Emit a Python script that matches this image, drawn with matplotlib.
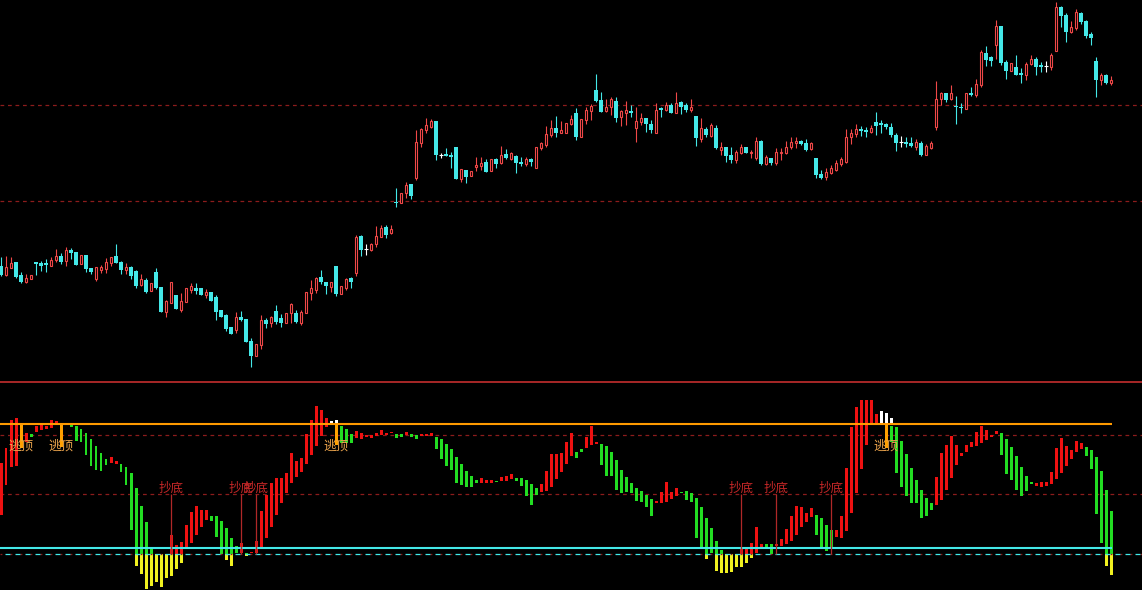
import numpy as np
import matplotlib.pyplot as plt

plt.rcParams['font.family'] = ['Noto Sans CJK SC', 'DejaVu Sans']

# price candles (arbitrary price units)
open_ = [134, 125, 132, 138, 125, 118, 121, 138, 137, 137,
         134, 140, 144, 139, 150, 148, 136, 145, 132, 121,
         130, 131, 137, 144, 138, 130, 133, 129, 115, 120,
         109, 128, 113, 88, 97, 105, 90, 98, 110, 112,
         112, 105, 108, 103, 90, 85, 73, 70, 83, 81,
         59, 44, 55, 80, 77, 89, 82, 77, 87, 87,
         77, 87, 107, 110, 123, 118, 113, 134, 106, 112,
         122, 127, 164, 151, 150, 156, 163, 173, 167, 198,
         197, 207, 216, 222, 257, 270, 273, 279, 245, 246,
         245, 253, 221, 230, 224, 233, 234, 238, 229, 241,
         237, 246, 241, 244, 238, 236, 241, 232, 252, 255,
         265, 272, 267, 267, 276, 287, 263, 280, 289, 310,
         300, 289, 293, 299, 283, 287, 289, 272, 278, 282,
         276, 267, 292, 290, 295, 287, 298, 295, 290, 284,
         261, 271, 264, 272, 250, 253, 245, 240, 247, 253,
         247, 242, 259, 236, 242, 237, 247, 247, 253, 257,
         259, 257, 251, 242, 226, 223, 227, 230, 236, 238,
         263, 266, 271, 270, 268, 278, 277, 276, 273, 265,
         258, 258, 257, 253, 257, 245, 252, 273, 301, 307,
         301, 294, 293, 291, 307, 305, 315, 347, 343, 355,
         374, 338, 329, 333, 327, 325, 336, 341, 335, 334,
         333, 349, 393, 385, 368, 372, 387, 379, 366, 339,
         320, 325, 317]
high = [143, 144, 143, 138, 128, 126, 125, 138, 139, 141,
        143, 151, 147, 153, 152, 148, 145, 145, 132, 133,
        135, 142, 143, 156, 139, 137, 134, 130, 126, 122,
        117, 132, 113, 100, 118, 105, 107, 112, 117, 117,
        112, 111, 108, 105, 90, 86, 73, 88, 89, 81,
        62, 56, 85, 82, 84, 95, 86, 87, 97, 90,
        90, 108, 120, 123, 130, 118, 118, 134, 114, 122,
        123, 165, 165, 156, 157, 174, 175, 175, 175, 212,
        207, 218, 216, 270, 272, 282, 281, 279, 247, 252,
        248, 253, 231, 230, 229, 243, 243, 241, 241, 242,
        254, 251, 248, 245, 243, 243, 242, 253, 258, 274,
        280, 284, 279, 277, 285, 292, 281, 293, 296, 326,
        308, 301, 303, 303, 290, 299, 295, 293, 287, 282,
        280, 297, 293, 298, 297, 308, 299, 297, 301, 284,
        282, 273, 277, 275, 258, 253, 253, 250, 256, 253,
        250, 263, 260, 245, 242, 252, 252, 259, 263, 263,
        260, 261, 258, 242, 230, 232, 235, 240, 243, 271,
        271, 276, 274, 273, 275, 288, 280, 277, 277, 267,
        264, 263, 263, 261, 259, 256, 259, 319, 308, 307,
        315, 304, 297, 307, 313, 321, 350, 354, 344, 380,
        374, 340, 337, 345, 332, 338, 345, 343, 338, 339,
        347, 398, 394, 387, 379, 391, 388, 380, 368, 343,
        327, 326, 324]
low = [124, 124, 132, 122, 117, 117, 121, 125, 129, 128,
       134, 138, 136, 134, 141, 135, 136, 128, 126, 119,
       127, 127, 134, 137, 126, 126, 121, 112, 114, 107,
       109, 111, 88, 83, 97, 91, 88, 98, 107, 106,
       105, 102, 99, 80, 83, 69, 66, 67, 79, 58,
       33, 44, 51, 72, 73, 76, 73, 77, 77, 77,
       75, 87, 100, 107, 116, 106, 108, 104, 106, 110,
       112, 124, 144, 145, 149, 153, 163, 162, 166, 193,
       197, 202, 201, 220, 253, 267, 272, 240, 242, 244,
       232, 221, 218, 217, 224, 229, 230, 228, 229, 232,
       236, 241, 240, 227, 234, 234, 234, 232, 250, 253,
       263, 263, 267, 267, 275, 260, 263, 276, 280, 298,
       288, 288, 285, 278, 274, 275, 283, 258, 275, 268,
       267, 267, 283, 289, 287, 287, 286, 288, 288, 254,
       258, 263, 263, 251, 245, 238, 237, 237, 246, 247,
       242, 240, 235, 235, 235, 235, 240, 246, 251, 252,
       255, 249, 250, 222, 221, 220, 226, 229, 234, 237,
       256, 263, 264, 263, 267, 265, 267, 271, 263, 249,
       253, 253, 253, 250, 244, 245, 251, 270, 295, 298,
       300, 276, 287, 291, 304, 303, 313, 334, 334, 341,
       335, 321, 329, 325, 317, 320, 335, 325, 328, 328,
       330, 349, 373, 358, 367, 370, 376, 362, 355, 303,
       315, 316, 315]
close = [125, 133, 137, 123, 118, 122, 125, 136, 134, 135,
         140, 144, 138, 150, 147, 135, 145, 131, 128, 133,
         133, 138, 143, 137, 130, 133, 124, 114, 121, 108,
         117, 112, 88, 99, 118, 91, 99, 112, 114, 109,
         105, 108, 99, 88, 83, 71, 66, 83, 80, 58,
         44, 56, 80, 76, 83, 78, 77, 87, 96, 78,
         88, 108, 112, 122, 118, 114, 118, 106, 114, 121,
         118, 163, 150, 151, 156, 164, 172, 165, 171, 197,
         207, 215, 204, 258, 271, 275, 279, 245, 245, 244,
         243, 221, 231, 223, 229, 235, 237, 228, 241, 236,
         245, 242, 247, 237, 236, 241, 238, 253, 257, 266,
         272, 267, 270, 277, 281, 263, 281, 290, 294, 299,
         288, 293, 301, 282, 289, 290, 287, 279, 282, 276,
         270, 290, 290, 295, 287, 297, 293, 290, 293, 262,
         272, 265, 275, 252, 253, 244, 240, 248, 253, 247,
         248, 259, 236, 243, 237, 248, 248, 253, 258, 259,
         256, 250, 257, 225, 222, 228, 232, 237, 241, 263,
         267, 271, 269, 268, 272, 274, 275, 273, 265, 257,
         258, 256, 254, 258, 245, 254, 257, 301, 307, 300,
         307, 293, 292, 307, 305, 316, 348, 340, 339, 374,
         337, 329, 337, 325, 325, 336, 341, 333, 333, 334,
         345, 393, 384, 368, 373, 388, 378, 364, 362, 320,
         325, 317, 320]

# indicator: fast / slow lines (None = no bar)
fast = [91, 106, 134, 136, None, 121, 117, 128, 131, 128,
        134, 133, None, None, 127, 113, 112, 99, 88, 84,
        83, 89, 97, 93, 82, 69, 24, -12, -20, -35,
        -32, -28, -33, -5, 19, 9, 12, 29, 42, 48,
        44, 44, 33, 17, 0, -6, -12, 1, 11, -2,
        2, 13, 43, 59, 71, 76, 76, 81, 101, 93,
        96, 120, 134, 148, 144, 136, None, None, 111, 111,
        111, 123, 121, 119, 119, 121, 124, 121, 122, 116,
        117, 122, 117, 115, 120, 120, 121, 105, 95, 88,
        84, 71, 69, 67, 67, 71, 76, 74, 74, 72,
        77, 78, 80, 73, 68, 58, 49, 59, 70, 83,
        100, 100, 101, 112, 121, 96, 102, 117, 128, 112,
        89, 78, 78, 64, 61, 62, 61, 53, 52, 47,
        38, 53, 62, 72, 62, 66, 61, 54, 52, 16,
        7, -5, 1, -17, -19, -19, -18, -5, 6, 7,
        11, 27, 10, 7, 0, 10, 15, 25, 38, 48,
        47, 41, 46, 19, 5, 3, 7, 24, 38, 86,
        127, 147, 154, 154, 154, 140, None, None, 112, 81,
        67, 58, 51, 51, 36, 38, 44, 77, 101, 109,
        118, 109, 101, 109, 112, 122, 128, 124, 119, 123,
        99, 80, 74, 64, 58, 63, 70, 71, 72, 72,
        82, 106, 116, 108, 104, 113, 111, 98, 85, 40,
        11, -12, -21]
slow = [39, 69, 87, 88, None, 112, 120, 122, 124, 125,
        126, 130, None, None, 129, 128, 125, 121, 115, 108,
        101, 95, 91, 90, 90, 87, 81, 66, 48, 32,
        5, -10, -25, -24, -22, -15, -9, 7, 11, 19,
        27, 34, 38, 38, 33, 26, 16, 8, 1, 1,
        1, 1, 7, 16, 27, 39, 51, 61, 71, 77,
        82, 90, 99, 108, 118, 127, None, None, 128, 125,
        120, 116, 115, 117, 116, 118, 119, 119, 121, 120,
        120, 119, 120, 119, 118, 118, 118, 117, 115, 110,
        105, 97, 90, 83, 78, 74, 71, 71, 71, 73,
        73, 73, 75, 76, 76, 74, 70, 66, 62, 63,
        67, 75, 82, 90, 98, 102, 105, 106, 109, 110,
        110, 108, 102, 94, 84, 77, 71, 66, 63, 59,
        55, 51, 51, 52, 55, 58, 62, 63, 61, 56,
        47, 36, 26, 13, 4, -5, -10, -13, -13, -9,
        -4, 1, 7, 10, 10, 8, 8, 10, 13, 19,
        27, 32, 37, 39, 36, 29, 24, 17, 16, 23,
        41, 61, 85, 109, 131, 130, None, None, 128, 127,
        113, 100, 86, 74, 64, 56, 51, 49, 54, 64,
        76, 89, 98, 102, 107, 108, 111, 114, 117, 120,
        121, 115, 107, 98, 87, 78, 72, 68, 67, 68,
        70, 75, 81, 88, 95, 102, 105, 107, 104, 97,
        83, 64, 43]

hot_idx = [66, 67, 176, 177, 178]
hot_val = [133, 134, 143, 141, 136]
escape_idx = [4, 12, 67, 177]
escape_low = [106, 107, 109, 106]
bottom_idx = [34, 48, 51, 148, 155, 166]

top_level = 130
low_level = 6
grid_levels = [60, 119]
price_grid = [295, 199]

RED = '#f04848'
CYAN = '#44e8e8'
BAR_RED = '#ee1111'
BAR_GREEN = '#22dd22'
YELLOW = '#f0f020'
ORANGE = '#ff9a00'
DARKRED = '#8c1c1c'

o = np.array(open_)
h = np.array(high)
l = np.array(low)
c = np.array(close)
n = len(c)
x = np.arange(n)

fig = plt.figure(figsize=(11.42, 5.90), dpi=100, facecolor='black')
ax = fig.add_axes([0, 209 / 590, 1, 381 / 590])
ax2 = fig.add_axes([0, 0, 1, 208 / 590])
for a in (ax, ax2):
    a.set_facecolor('black')
    a.set_xlim(-0.2, 228.2)
    a.set_xticks([])
    a.set_yticks([])
    for s in a.spines.values():
        s.set_visible(False)
ax.set_ylim(19, 400)
ax2.set_ylim(-36, 172)
ax2.spines['top'].set_visible(True)
ax2.spines['top'].set_color('#a82828')
ax2.spines['top'].set_linewidth(1.4)

# main chart
for lv in price_grid:
    ax.axhline(lv, color=DARKRED, lw=0.9, dashes=(3, 3), zorder=1)

bw = 0.66
down = c < o
up = c > o
flat = c == o
ax.vlines(x[down], l[down], h[down], color=CYAN, lw=0.8, zorder=2)
ax.bar(x[down], (o - c)[down], bottom=c[down], width=bw, color=CYAN,
       linewidth=0, zorder=3)
ax.vlines(x[up], c[up], h[up], color=RED, lw=0.8, zorder=2)
ax.vlines(x[up], l[up], o[up], color=RED, lw=0.8, zorder=2)
ax.bar(x[up], (c - o)[up], bottom=o[up], width=bw - 0.1, facecolor='black',
       edgecolor=RED, linewidth=0.8, zorder=3)
ax.vlines(x[flat], l[flat], h[flat], color='white', lw=0.8, zorder=2)
ax.hlines(c[flat], x[flat] - bw / 2, x[flat] + bw / 2, color='white', lw=0.8, zorder=3)

# indicator
fa = np.array([np.nan if v is None else v for v in fast], float)
sa = np.array([np.nan if v is None else v for v in slow], float)
ok = ~np.isnan(fa)
lo = np.minimum(fa, sa)
hi = np.maximum(fa, sa)
rise = ok & (fa >= sa)
fall = ok & (fa < sa)
iw = 0.6
ax2.bar(x[rise], (hi - lo)[rise], bottom=lo[rise], width=iw, color=BAR_RED,
        linewidth=0, zorder=2)
ax2.bar(x[fall], (hi - lo)[fall], bottom=lo[fall], width=iw, color=BAR_GREEN,
        linewidth=0, zorder=2)
neg = ok & (lo < 0)
ax2.bar(x[neg], -lo[neg], bottom=lo[neg], width=iw, color=YELLOW,
        linewidth=0, zorder=2)
ax2.bar(hot_idx, np.array(hot_val) - top_level, bottom=top_level, width=iw,
        color='white', linewidth=0, zorder=2)
ax2.bar(escape_idx, top_level - np.array(escape_low), bottom=escape_low,
        width=iw, color='#ffa000', linewidth=0, zorder=2)

for lv in grid_levels:
    ax2.axhline(lv, color=DARKRED, lw=0.9, dashes=(3, 3), zorder=1)
ax2.axhline(0, color=DARKRED, lw=0.9, linestyle=(0, (1.5, 6.5)), zorder=3)
ax2.axhline(0, color=CYAN, lw=0.9, linestyle=(4, (4, 4)), zorder=3)
ax2.hlines(top_level, -0.2, n - 0.8, color=ORANGE, lw=1.5, zorder=4)
ax2.hlines(low_level, -0.2, n - 0.8, color=CYAN, lw=1.5, zorder=4)

for i in escape_idx:
    ax2.text(i, 107.5, '逃顶', color='#eea64e', fontsize=9, ha='center',
             va='center', zorder=5)
for i in bottom_idx:
    ax2.vlines(i, 0, 60, color='#b02828', lw=0.9, zorder=4)
    ax2.text(i, 65.5, '抄底', color='#c82828', fontsize=9, ha='center',
             va='center', zorder=5)

fig.savefig('out.png', dpi=100, facecolor='black')
